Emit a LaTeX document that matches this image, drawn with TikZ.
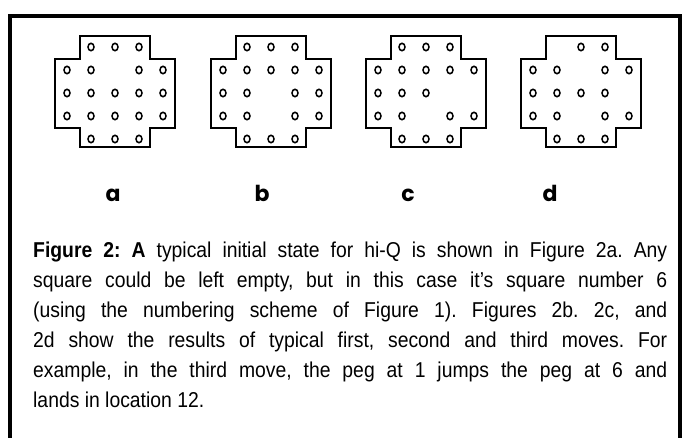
\documentclass[tikz,border=0pt]{standalone}
\usepackage{fontspec}
\setmainfont{Liberation Sans}[FakeStretch=0.9]
\newfontfamily\labfont{Poppins}
\frenchspacing
\begin{document}
\begin{tikzpicture}[x=1pt,y=-1pt,
  frame/.style={line width=3.5pt},
  brd/.style={line width=1.2pt,line join=miter},
  peg/.style={line width=1.5pt},
  lab/.style={font=\labfont\bfseries\fontsize{22pt}{22pt}\selectfont, anchor=base, inner sep=0pt},
  captxt/.style={anchor=north west, inner sep=0pt, text width=634pt, align=justify,
    font=\fontsize{21.5pt}{30pt}\selectfont\frenchspacing}]
\useasboundingbox (0,0) rectangle (689,438);
\draw[frame] (10,438) -- (10,16) -- (680,16) -- (680,438);
\foreach \cx/\pegs in {
  115/{1/0,2/0,3/0, 0/1,1/1,3/1,4/1, 0/2,1/2,2/2,3/2,4/2, 0/3,1/3,2/3,3/3,4/3, 1/4,2/4,3/4},
  271/{1/0,2/0,3/0, 0/1,1/1,2/1,3/1,4/1, 0/2,1/2,3/2,4/2, 0/3,1/3,3/3,4/3, 1/4,2/4,3/4},
  426/{1/0,2/0,3/0, 0/1,1/1,2/1,3/1,4/1, 0/2,1/2,2/2, 0/3,1/3,3/3,4/3, 1/4,2/4,3/4},
  581/{2/0,3/0, 0/1,1/1,3/1,4/1, 0/2,1/2,2/2,3/2, 0/3,1/3,3/3,4/3, 1/4,2/4,3/4}} {
  \begin{scope}[shift={(\cx,0)}]
    \draw[brd] (-35,36) -- (35,36) -- (35,59) -- (60,59) -- (60,128) -- (35,128)
      -- (35,147) -- (-35,147) -- (-35,128) -- (-60,128) -- (-60,59) -- (-35,59) -- cycle;
    \foreach \c/\r in \pegs {
      \draw[peg] ({24*\c-48},{47+23*\r}) ellipse (3pt and 3.7pt);
    }
  \end{scope}
}
\node[lab] (la) at (113,202) {a};
\node[lab] (lb) at (262,202) {b};
\node[lab] (lc) at (408,202) {c};
\node[lab] (ld) at (550,202) {d};
\node[captxt] (caption) at (33,242) {\textbf{Figure 2: A} typical initial state for hi-Q is shown in Figure 2a. Any\linebreak
square could be left empty, but in this case it's square number 6\linebreak
(using the numbering scheme of Figure 1). Figures 2b. 2c, and\linebreak
2d show the results of typical first, second and third moves. For\linebreak
example, in the third move, the peg at 1 jumps the peg at 6 and\linebreak
lands in location 12.};
\end{tikzpicture}
\end{document}
